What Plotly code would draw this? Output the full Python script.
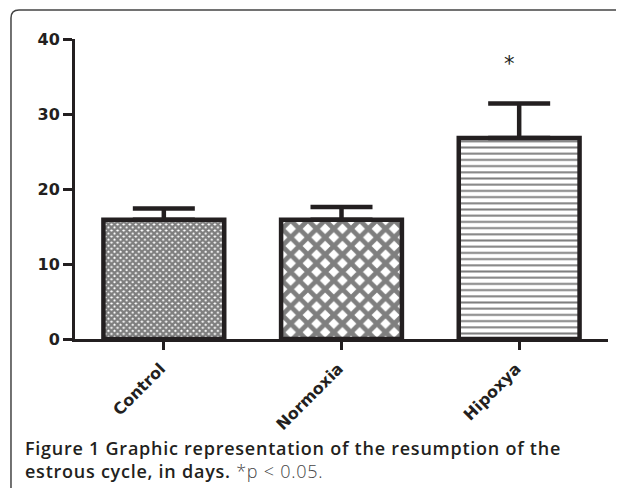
import plotly.graph_objects as go

categories = ["Control", "Normoxia", "Hipoxya"]
means = [15.9, 15.9, 26.8]
errors = [1.5, 1.7, 4.6]
significant = [False, False, True]
y_ticks = [0, 10, 20, 30, 40]
caption = ("<span style='letter-spacing:0.75px'>Figure 1 Graphic representation of the resumption of the"
           "<br>estrous cycle, in days. <span style='font-weight:300;color:#444'>"
           "*p < 0.05.</span></span>")

ink = "#231f20"
patterns = [
    dict(shape="x", size=4.3, solidity=0.8, fgcolor="black", bgcolor="white"),
    dict(shape="x", size=12.2, solidity=0.62, fgcolor="black", bgcolor="white"),
    dict(shape="-", size=6.2, solidity=0.32, fgcolor="black", bgcolor="white"),
]

fig = go.Figure()
for i, cat in enumerate(categories):
    fig.add_trace(go.Bar(
        x=[cat], y=[means[i]], width=0.68,
        marker=dict(color="white", line=dict(color=ink, width=4.5), pattern=patterns[i]),
        error_y=dict(type="data", symmetric=False, array=[errors[i]], arrayminus=[0],
                     color=ink, thickness=4.5, width=31),
        showlegend=False, hoverinfo="skip",
    ))

for i, cat in enumerate(categories):
    if significant[i]:
        fig.add_annotation(x=cat, y=means[i] + errors[i] + 5.3, xref="x", yref="y",
                           text="*", showarrow=False, xshift=-10,
                           font=dict(family="DejaVu Sans", size=21, color=ink))

fig.add_annotation(x=-0.0976, y=-0.402, xref="paper", yref="paper", xanchor="left",
                   yanchor="middle", text=caption, showarrow=False, align="left",
                   font=dict(family="Open Sans", size=18, color=ink, weight=600))

# frame with rounded top-left corner
fig.add_shape(type="path", xref="paper", yref="paper",
              path="M -0.1201,-0.6 L -0.1201,1.07 Q -0.1201,1.0967 -0.1051,1.0967 L 1.04,1.0967",
              line=dict(color="#444", width=1.5), layer="above")

fig.update_layout(
    width=608, height=480,
    margin=dict(l=67, r=8, t=31, b=149),
    paper_bgcolor="white", plot_bgcolor="white",
    xaxis=dict(type="category", range=[-0.5, 2.5], showline=True, linecolor=ink, linewidth=3,
               ticks="outside", ticklen=8, tickwidth=3, tickcolor=ink, tickangle=-45,
               ticklabelstandoff=3, ticklabelshift=-3,
               showgrid=False, zeroline=False,
               tickfont=dict(family="DejaVu Sans", size=16, color=ink, weight="bold")),
    yaxis=dict(range=[0, 40], tickvals=y_ticks, showline=True, linecolor=ink, linewidth=3,
               ticks="outside", ticklen=9, tickwidth=3, tickcolor=ink,
               showgrid=False, zeroline=False,
               tickfont=dict(family="DejaVu Sans", size=16, color=ink, weight="bold")),
)

fig.write_html("out.html")
